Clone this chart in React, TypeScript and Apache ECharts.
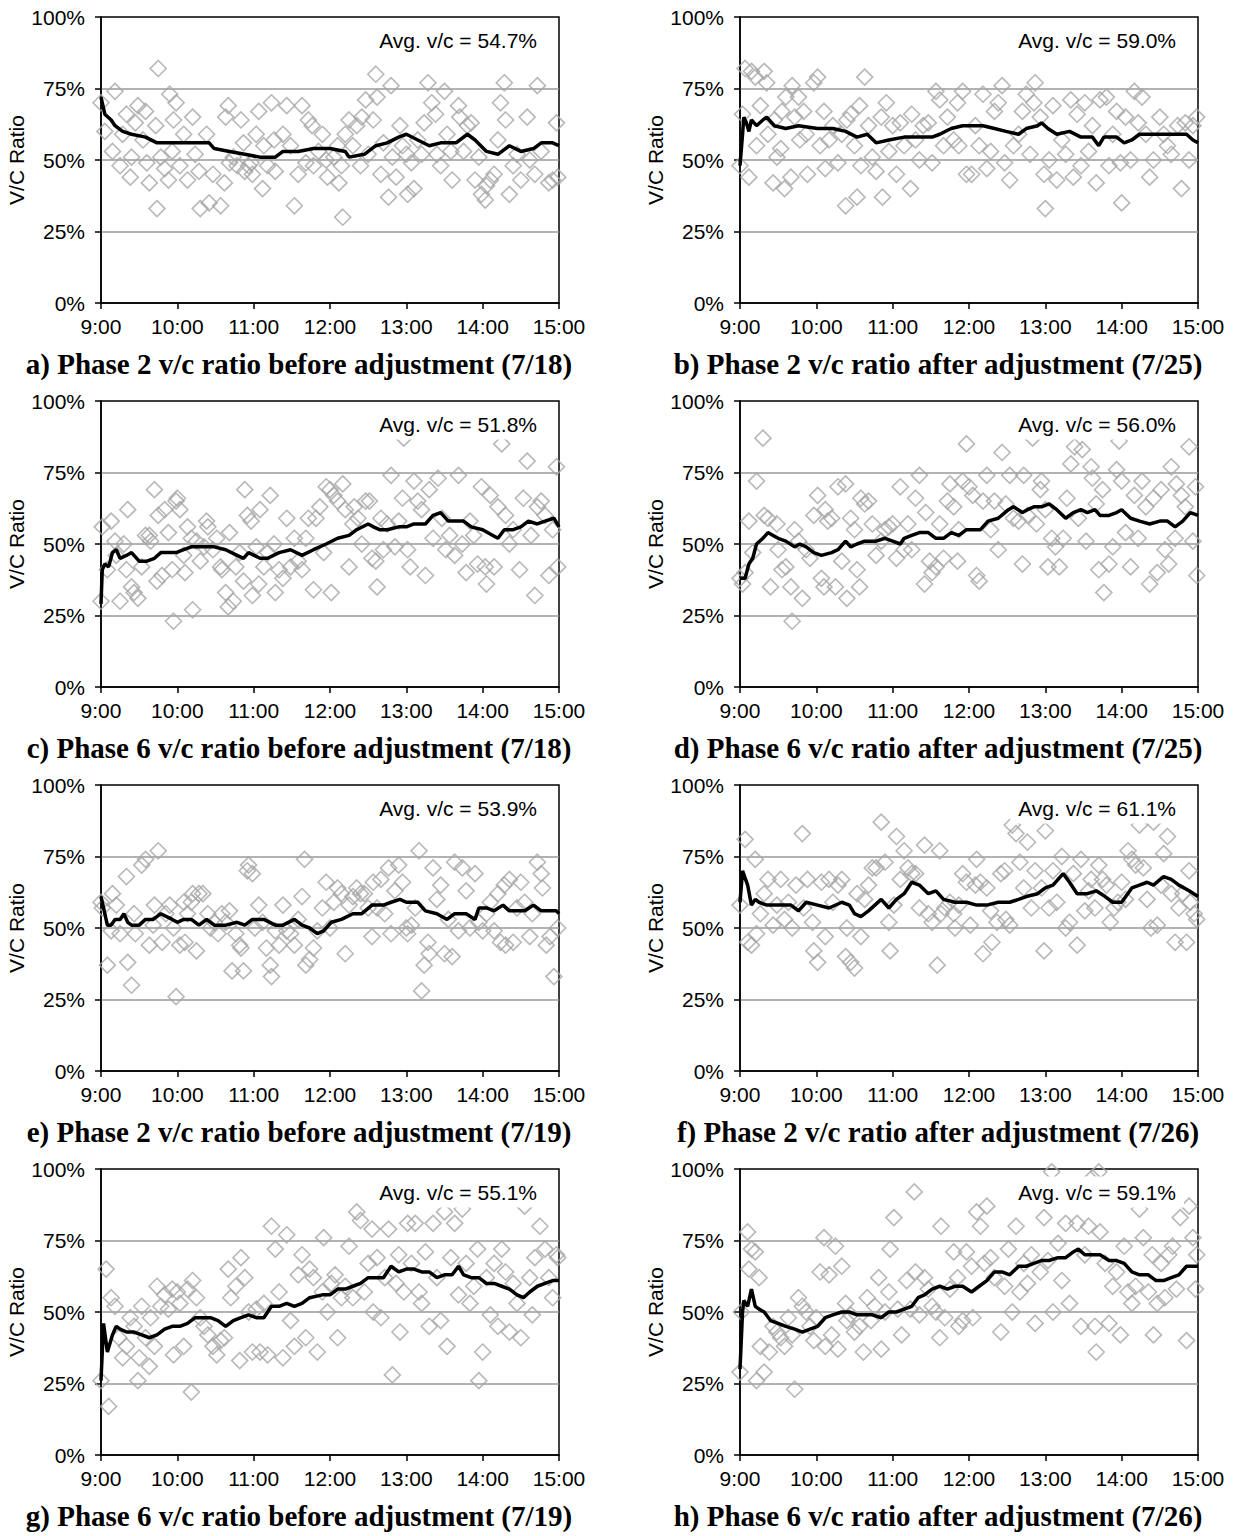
import React, { useEffect, useRef } from "react";
import * as echarts from "echarts";

const TIME_LABELS = ["9:00", "10:00", "11:00", "12:00", "13:00", "14:00", "15:00"];
const Y_TICKS = [0, 25, 50, 75, 100];

const CAPTIONS = [
  "a) Phase 2 v/c ratio before adjustment (7/18)",
  "b) Phase 2 v/c ratio after adjustment (7/25)",
  "c) Phase 6 v/c ratio before adjustment (7/18)",
  "d) Phase 6 v/c ratio after adjustment (7/25)",
  "e) Phase 2 v/c ratio before adjustment (7/19)",
  "f) Phase 2 v/c ratio after adjustment (7/26)",
  "g) Phase 6 v/c ratio before adjustment (7/19)",
  "h) Phase 6 v/c ratio after adjustment (7/26)",
];
const AVG_VC = ["54.7%", "59.0%", "51.8%", "56.0%", "53.9%", "61.1%", "55.1%", "59.1%"];

// x = minutes after 9:00, y = v/c ratio in %
const scatterA = [[0,70],[3,60],[11,74],[9,53],[17,59],[15,48],[20,66],[24,51],[23,44],[27,63],[29,69],[35,67],[33,57],[36,49],[38,42],[44,33],[45,82],[43,62],[47,51],[50,47],[53,43],[54,73],[59,70],[57,64],[56,53],[62,48],[65,59],[68,43],[72,65],[74,52],[77,46],[78,33],[83,59],[85,35],[88,45],[94,34],[97,42],[100,69],[98,65],[101,49],[104,51],[107,48],[110,64],[112,56],[113,46],[116,48],[118,49],[119,45],[122,59],[124,67],[127,40],[128,55],[131,48],[134,70],[136,57],[137,46],[143,59],[146,69],[149,55],[152,34],[155,45],[158,69],[161,49],[163,64],[166,62],[167,48],[171,53],[174,59],[177,50],[178,44],[183,51],[186,55],[187,42],[189,48],[190,30],[192,59],[195,64],[198,55],[201,62],[204,48],[205,65],[208,71],[210,52],[214,64],[216,80],[217,72],[220,45],[222,56],[226,37],[228,76],[229,51],[232,44],[235,62],[237,55],[240,52],[241,38],[244,49],[246,40],[249,57],[252,52],[254,63],[257,77],[260,70],[263,66],[264,52],[267,48],[270,74],[272,59],[275,53],[276,43],[281,69],[282,65],[285,53],[288,62],[291,63],[294,43],[297,51],[299,38],[302,36],[303,41],[306,43],[309,45],[312,57],[314,70],[317,77],[318,64],[321,38],[324,48],[327,52],[330,43],[335,65],[337,50],[341,45],[343,76],[346,53],[352,42],[355,43],[358,63],[359,44]];
const lineA = [[0,72],[3,66],[8,64],[11,62],[17,60],[24,59],[35,58],[44,56],[56,56],[65,56],[77,56],[85,56],[89,54],[101,53],[113,52],[125,51],[137,51],[143,53],[155,53],[167,54],[180,54],[192,53],[195,51],[207,52],[216,55],[225,56],[234,58],[240,59],[249,57],[258,55],[267,56],[279,56],[288,59],[294,57],[303,53],[312,52],[321,55],[330,53],[340,54],[346,56],[355,56],[360,55]];

const scatterB = [[0,48],[2,66],[4,82],[9,81],[7,44],[12,79],[13,55],[16,69],[19,81],[21,77],[22,59],[26,42],[27,64],[29,51],[32,54],[33,67],[35,40],[36,72],[40,44],[41,76],[43,65],[46,72],[47,57],[50,67],[52,59],[53,45],[58,77],[61,79],[63,55],[66,67],[67,47],[70,57],[73,62],[77,49],[80,59],[83,34],[84,64],[87,66],[90,55],[92,37],[94,69],[95,48],[98,79],[101,62],[104,51],[107,46],[111,65],[112,37],[115,70],[117,53],[120,62],[123,45],[126,63],[129,55],[134,40],[135,66],[138,57],[141,50],[144,62],[148,63],[151,49],[154,74],[157,71],[160,55],[163,65],[168,57],[171,70],[172,55],[175,74],[178,45],[182,45],[185,62],[188,55],[191,73],[194,47],[197,53],[200,67],[203,70],[206,76],[208,49],[212,43],[215,55],[219,59],[222,67],[225,73],[228,52],[231,70],[232,77],[236,65],[239,45],[240,33],[243,50],[246,69],[249,43],[253,57],[256,52],[260,71],[262,44],[265,66],[268,48],[271,70],[274,53],[277,62],[280,42],[283,71],[288,72],[290,48],[293,59],[296,67],[299,49],[300,35],[303,65],[307,50],[310,74],[313,63],[316,72],[319,59],[322,44],[325,50],[330,65],[333,59],[336,55],[339,52],[344,62],[347,40],[350,63],[353,50],[356,62],[359,65]];
const lineB = [[0,48],[2,59],[3,65],[5,63],[7,60],[9,64],[13,62],[18,64],[21,65],[27,62],[36,61],[46,62],[61,61],[73,61],[83,60],[92,58],[100,59],[107,56],[117,57],[129,58],[141,58],[151,58],[157,59],[166,61],[175,62],[185,62],[191,62],[200,61],[209,60],[219,59],[225,61],[234,62],[237,63],[242,61],[249,59],[259,60],[268,58],[277,58],[282,55],[286,58],[296,58],[302,56],[308,57],[314,59],[324,59],[333,59],[342,59],[351,59],[356,57],[360,56]];

const scatterC = [[0,30],[1,56],[5,41],[8,58],[11,51],[12,46],[15,30],[18,50],[20,41],[21,62],[24,35],[26,33],[29,31],[32,42],[35,53],[38,53],[39,51],[42,69],[44,37],[45,60],[48,39],[50,62],[53,54],[56,41],[57,23],[59,65],[60,66],[62,62],[65,46],[66,40],[68,56],[71,52],[72,27],[75,51],[78,44],[81,49],[83,58],[84,56],[88,48],[91,52],[94,42],[95,41],[98,33],[100,28],[101,54],[104,30],[106,42],[109,47],[112,37],[113,69],[115,60],[118,58],[119,32],[122,49],[124,36],[125,62],[128,42],[131,47],[133,67],[136,50],[137,33],[140,41],[143,38],[146,59],[149,42],[152,52],[155,44],[158,41],[161,52],[163,59],[167,34],[169,59],[172,63],[175,47],[177,70],[180,69],[181,33],[183,67],[186,65],[190,71],[192,62],[195,42],[198,57],[199,63],[202,59],[205,50],[208,65],[211,65],[213,45],[216,44],[217,35],[220,59],[222,48],[225,57],[228,74],[231,49],[234,58],[237,66],[238,87],[241,48],[243,42],[246,72],[249,65],[252,62],[255,39],[258,69],[261,52],[265,73],[268,59],[271,48],[274,53],[278,46],[281,74],[284,50],[287,40],[290,58],[293,53],[296,43],[299,70],[302,42],[303,36],[306,67],[309,42],[312,63],[315,85],[318,60],[321,50],[324,55],[329,41],[332,66],[335,79],[338,53],[341,32],[343,63],[346,65],[349,60],[352,39],[355,55],[358,77],[359,42]];
const lineC = [[0,29],[1,41],[3,43],[6,42],[9,47],[12,48],[15,45],[20,46],[24,47],[30,44],[36,44],[42,45],[47,47],[53,47],[59,47],[65,48],[71,49],[80,49],[89,49],[98,48],[107,46],[112,45],[116,47],[125,45],[131,45],[140,47],[149,48],[158,46],[167,48],[177,50],[186,52],[195,53],[201,55],[210,57],[214,56],[219,55],[225,55],[234,56],[240,56],[246,57],[255,57],[261,60],[267,61],[273,58],[279,58],[285,58],[291,56],[300,55],[308,53],[312,52],[317,55],[324,55],[330,56],[336,58],[343,57],[349,58],[356,59],[360,56]];

const scatterD = [[0,38],[2,36],[4,40],[7,58],[10,47],[13,72],[18,87],[19,60],[22,59],[24,35],[29,57],[30,48],[33,41],[36,42],[40,35],[41,23],[43,55],[46,51],[49,31],[52,48],[55,45],[58,60],[61,67],[64,38],[66,35],[67,62],[69,58],[72,59],[75,35],[77,70],[80,44],[83,71],[84,31],[87,59],[90,55],[92,41],[94,35],[95,66],[98,64],[101,65],[104,57],[107,46],[111,51],[114,55],[117,56],[120,57],[123,45],[126,70],[129,48],[132,57],[135,48],[138,66],[141,74],[145,36],[146,61],[149,44],[151,40],[154,42],[157,57],[160,45],[163,65],[165,71],[168,63],[171,44],[172,55],[175,72],[178,85],[180,70],[183,67],[186,39],[188,37],[191,65],[194,74],[197,55],[200,65],[203,48],[206,82],[209,64],[212,74],[215,59],[219,58],[222,43],[223,74],[226,60],[230,87],[233,57],[236,69],[237,72],[240,62],[242,42],[245,52],[248,49],[251,42],[254,52],[257,66],[260,78],[263,84],[266,59],[269,83],[272,51],[276,77],[277,73],[280,64],[282,41],[285,69],[286,33],[290,43],[293,49],[296,76],[298,86],[300,72],[303,54],[307,42],[310,67],[313,52],[316,72],[319,63],[322,36],[325,66],[328,40],[331,69],[334,48],[337,43],[339,77],[342,52],[343,71],[347,67],[350,63],[353,84],[356,51],[358,70],[359,39]];
const lineD = [[0,38],[4,38],[7,43],[10,45],[13,50],[18,52],[22,54],[26,53],[30,52],[36,51],[43,49],[47,50],[52,49],[58,47],[64,46],[72,47],[77,48],[83,51],[87,49],[92,50],[98,51],[107,51],[114,52],[120,51],[126,50],[129,52],[135,53],[141,54],[148,54],[154,52],[160,52],[166,54],[172,53],[178,55],[185,55],[189,55],[195,58],[203,59],[211,62],[215,63],[222,61],[226,62],[231,63],[237,63],[243,64],[249,62],[256,59],[262,61],[268,62],[273,61],[279,62],[283,60],[290,60],[296,61],[300,62],[307,59],[314,58],[322,57],[330,58],[336,58],[342,56],[348,58],[354,61],[360,60]];

const scatterE = [[0,59],[1,57],[5,37],[8,49],[9,62],[12,58],[15,48],[20,68],[21,38],[24,30],[26,55],[27,48],[32,72],[35,74],[38,44],[41,51],[42,58],[45,77],[48,45],[51,55],[54,58],[57,50],[59,26],[62,44],[65,59],[66,45],[68,55],[71,59],[72,62],[75,42],[77,62],[80,62],[84,55],[86,50],[89,52],[92,48],[95,55],[98,52],[101,56],[103,35],[106,48],[109,44],[110,43],[112,35],[115,70],[116,72],[119,69],[121,50],[124,58],[127,52],[130,43],[133,37],[134,33],[137,49],[140,44],[143,58],[146,49],[149,48],[152,44],[155,53],[158,61],[160,74],[161,37],[164,39],[167,43],[170,49],[174,57],[177,66],[180,50],[183,59],[186,64],[189,62],[192,41],[195,58],[198,61],[201,64],[204,62],[207,62],[210,57],[213,47],[214,66],[217,57],[220,67],[223,55],[226,71],[228,48],[231,63],[234,72],[237,66],[240,50],[241,48],[244,51],[247,57],[250,77],[252,28],[254,37],[257,45],[258,41],[261,71],[264,60],[267,65],[270,41],[273,53],[276,40],[278,73],[281,49],[284,71],[287,63],[290,50],[294,69],[297,52],[300,49],[303,55],[306,59],[309,49],[312,62],[314,45],[317,65],[318,44],[321,67],[324,45],[327,57],[330,66],[333,59],[337,47],[339,55],[343,73],[346,69],[347,64],[350,44],[353,47],[356,33],[359,50]];
const lineE = [[0,61],[2,57],[5,51],[8,51],[11,53],[15,53],[18,55],[21,52],[24,51],[30,51],[35,53],[41,53],[47,55],[56,53],[60,52],[65,53],[71,53],[77,51],[83,53],[89,51],[98,51],[107,52],[113,51],[119,53],[128,53],[137,51],[143,51],[152,53],[158,51],[164,50],[170,48],[175,49],[181,52],[189,53],[198,55],[205,55],[213,58],[222,58],[228,59],[235,60],[240,59],[249,59],[255,56],[264,55],[272,53],[278,55],[287,55],[294,53],[297,57],[303,57],[309,56],[316,58],[321,56],[327,56],[333,56],[340,58],[346,56],[352,56],[358,56],[360,55]];

const scatterF = [[0,58],[4,81],[6,45],[9,44],[12,74],[13,48],[16,55],[19,62],[22,67],[26,51],[29,58],[32,67],[35,53],[38,59],[41,50],[44,65],[49,83],[50,57],[53,67],[57,52],[58,42],[61,38],[64,66],[67,47],[70,67],[73,59],[77,65],[80,67],[83,40],[84,50],[87,38],[90,36],[92,62],[95,47],[98,60],[101,65],[104,71],[107,71],[111,87],[114,73],[117,52],[118,42],[121,58],[123,82],[126,67],[129,77],[132,71],[135,69],[138,69],[141,57],[145,79],[148,55],[151,52],[155,37],[157,77],[158,55],[161,57],[165,59],[168,55],[169,50],[172,58],[175,69],[178,66],[181,51],[185,65],[186,74],[189,66],[191,41],[194,64],[197,56],[198,45],[202,52],[205,69],[208,70],[209,53],[212,51],[214,86],[217,83],[220,73],[223,64],[226,80],[229,57],[232,70],[237,64],[239,42],[240,84],[243,57],[246,70],[249,59],[253,75],[256,50],[259,52],[262,69],[265,44],[268,74],[271,56],[274,63],[276,67],[279,57],[282,72],[285,67],[288,65],[291,52],[294,57],[297,59],[300,66],[303,60],[305,77],[308,74],[311,72],[314,86],[317,71],[320,60],[323,50],[325,87],[328,51],[331,65],[333,76],[336,82],[339,62],[342,45],[345,57],[348,62],[351,45],[353,70],[354,59],[357,55],[359,53]];
const lineF = [[0,59],[2,70],[6,65],[9,58],[12,60],[15,59],[21,58],[30,58],[40,58],[46,56],[52,59],[61,58],[70,57],[80,59],[86,58],[90,55],[95,54],[101,56],[111,60],[117,57],[123,60],[129,62],[135,66],[141,65],[148,62],[154,63],[160,60],[169,59],[178,59],[186,58],[194,58],[203,59],[212,59],[219,60],[225,61],[234,62],[240,64],[246,65],[254,69],[259,66],[265,62],[273,62],[280,63],[287,61],[293,59],[300,59],[308,64],[314,65],[320,66],[325,65],[333,68],[339,67],[345,65],[353,63],[360,61]];

const scatterG = [[0,26],[4,65],[6,17],[8,55],[11,52],[14,41],[17,34],[20,38],[23,48],[26,45],[29,26],[30,34],[32,52],[35,41],[38,31],[39,48],[42,38],[44,59],[47,52],[50,56],[53,51],[56,58],[57,35],[60,57],[62,53],[65,38],[68,58],[71,22],[72,61],[75,55],[78,48],[81,45],[84,42],[88,38],[91,35],[94,40],[97,41],[100,65],[102,55],[106,59],[109,33],[110,69],[113,62],[116,50],[119,36],[122,51],[125,36],[128,53],[131,35],[134,80],[137,72],[140,57],[143,34],[146,77],[149,47],[152,38],[155,63],[158,70],[161,41],[164,65],[167,62],[170,36],[174,57],[175,76],[178,50],[181,60],[184,63],[186,41],[189,55],[192,59],[195,73],[198,55],[201,85],[204,82],[207,57],[210,67],[213,79],[214,50],[217,69],[220,48],[223,62],[226,79],[229,28],[232,60],[234,70],[235,43],[238,57],[241,81],[244,67],[247,81],[250,57],[252,53],[255,71],[258,45],[261,81],[264,62],[267,47],[270,85],[272,38],[275,69],[278,81],[281,56],[284,86],[287,67],[290,53],[293,59],[296,72],[297,26],[300,36],[303,62],[306,49],[309,67],[312,45],[315,72],[318,64],[321,43],[324,60],[327,53],[330,41],[333,87],[337,62],[339,49],[341,69],[345,80],[349,72],[352,62],[355,55],[358,70],[359,69]];
const lineG = [[0,26],[2,46],[5,36],[9,42],[12,45],[15,44],[20,43],[26,43],[32,42],[38,41],[44,42],[50,44],[56,45],[62,45],[68,46],[74,48],[80,48],[86,48],[92,47],[98,45],[104,47],[110,48],[116,49],[122,48],[128,48],[134,52],[140,52],[146,53],[152,52],[158,53],[164,55],[174,56],[180,56],[186,58],[192,58],[198,59],[204,60],[210,62],[216,62],[222,62],[228,66],[234,64],[240,65],[246,65],[252,64],[258,64],[264,62],[270,63],[276,63],[281,66],[285,63],[291,62],[297,62],[303,60],[309,60],[315,59],[321,58],[327,56],[332,55],[337,57],[343,59],[349,60],[355,61],[360,61]];

const scatterH = [[0,29],[1,50],[6,78],[9,72],[12,71],[7,65],[13,26],[15,62],[16,38],[19,29],[23,36],[26,45],[29,43],[32,41],[35,38],[38,48],[41,42],[43,23],[46,55],[49,52],[52,50],[55,45],[58,40],[60,48],[63,64],[66,76],[67,38],[70,63],[72,42],[75,73],[77,37],[80,66],[83,53],[84,47],[87,49],[90,43],[94,45],[97,36],[100,55],[103,47],[106,52],[109,62],[111,37],[114,50],[117,57],[118,72],[121,83],[124,51],[127,42],[131,61],[134,51],[137,92],[138,64],[141,49],[145,62],[148,58],[151,52],[154,50],[157,41],[158,80],[161,48],[165,58],[168,71],[171,62],[172,45],[175,47],[178,71],[182,66],[183,48],[186,85],[189,80],[192,67],[194,87],[197,69],[200,62],[205,43],[208,59],[211,72],[214,50],[217,80],[220,57],[223,67],[226,60],[229,70],[232,46],[236,64],[239,83],[242,68],[245,99],[246,50],[250,74],[253,61],[256,81],[259,53],[262,93],[265,81],[268,45],[271,70],[274,80],[277,97],[279,45],[280,36],[282,99],[283,78],[287,67],[290,46],[293,59],[296,64],[299,42],[302,73],[305,57],[308,53],[311,59],[314,86],[317,76],[321,57],[324,70],[325,42],[328,53],[331,67],[334,55],[337,70],[340,73],[343,58],[346,83],[351,40],[353,87],[356,76],[358,58],[359,70]];
const lineH = [[0,30],[2,50],[3,54],[6,52],[9,58],[12,52],[15,51],[19,50],[24,47],[30,46],[36,45],[43,44],[49,43],[55,44],[61,45],[67,48],[73,49],[80,50],[86,50],[92,49],[98,49],[104,49],[111,48],[117,50],[123,50],[129,51],[135,52],[140,55],[145,56],[151,58],[157,59],[163,58],[169,59],[175,59],[182,57],[188,59],[194,61],[200,64],[206,64],[212,63],[219,66],[225,66],[231,67],[237,68],[243,68],[250,69],[256,69],[262,71],[266,72],[271,70],[277,70],[283,70],[290,68],[296,68],[302,67],[308,64],[314,63],[321,63],[327,61],[333,61],[339,62],[345,63],[351,66],[360,66]];

const SCATTERS = [scatterA, scatterB, scatterC, scatterD, scatterE, scatterF, scatterG, scatterH];
const LINES = [lineA, lineB, lineC, lineD, lineE, lineF, lineG, lineH];

const SANS = "'Liberation Sans', Arial, sans-serif";
const SERIF = "'Liberation Serif', 'Times New Roman', serif";

export default function App() {
  const ref = useRef<HTMLDivElement>(null);
  useEffect(() => {
    if (!ref.current) return;
    const chart = echarts.init(ref.current, undefined, { renderer: "svg" });
    const lefts = [101, 740];
    const tops = [17, 401, 785, 1169];
    const W = 458;
    const H = 286;
    const grids: any[] = [];
    const xAxes: any[] = [];
    const yAxes: any[] = [];
    const series: any[] = [];
    const graphics: any[] = [];
    for (let i = 0; i < 8; i++) {
      const left = lefts[i % 2];
      const top = tops[Math.floor(i / 2)];
      grids.push({ left, top, width: W, height: H, show: true, borderColor: "#000", borderWidth: 1.5, backgroundColor: "transparent" });
      xAxes.push({
        type: "value", gridIndex: i, min: 0, max: 360, interval: 60,
        axisLine: { show: true, onZero: false, lineStyle: { color: "#000", width: 1.5 } },
        axisTick: { show: true, length: 6, inside: false, lineStyle: { color: "#000", width: 1.5 } },
        axisLabel: { color: "#000", fontFamily: SANS, fontSize: 21, margin: 13, formatter: (v: number) => TIME_LABELS[Math.round(v / 60)] },
        splitLine: { show: false },
      });
      yAxes.push({
        type: "value", gridIndex: i, min: Y_TICKS[0], max: Y_TICKS[Y_TICKS.length - 1], interval: 25,
        name: "V/C Ratio", nameLocation: "middle", nameGap: 63, nameRotate: 90,
        nameTextStyle: { color: "#000", fontFamily: SANS, fontSize: 21 },
        axisLine: { show: true, lineStyle: { color: "#000", width: 1.5 } },
        axisTick: { show: true, length: 6, inside: false, lineStyle: { color: "#000", width: 1.5 } },
        axisLabel: { color: "#000", fontFamily: SANS, fontSize: 21, margin: 16, formatter: "{value}%" },
        splitLine: { show: true, showMinLine: false, showMaxLine: false, lineStyle: { color: "#999", width: 1.5 } },
      });
      series.push({
        type: "scatter", xAxisIndex: i, yAxisIndex: i, data: SCATTERS[i], symbol: "diamond", symbolSize: 16,
        itemStyle: { color: "rgba(255,255,255,0)", borderColor: "#a6a6a6", borderWidth: 1.6 },
        clip: true, silent: true, z: 2,
      });
      series.push({
        type: "line", xAxisIndex: i, yAxisIndex: i, data: LINES[i], showSymbol: false, symbol: "none",
        lineStyle: { color: "#000", width: 3.5 }, silent: true, z: 3,
      });
      graphics.push({
        type: "text", x: left + W - 14, y: top + 23, z: 100,
        style: {
          text: "Avg. v/c = " + AVG_VC[i], fill: "#000", font: `21px ${SANS}`,
          textAlign: "right", textVerticalAlign: "middle", backgroundColor: "#fff", padding: [5, 8],
        },
      });
      graphics.push({
        type: "text", x: left + 198, y: top + 347, z: 100,
        style: {
          text: CAPTIONS[i], fill: "#000", font: `bold 29px ${SERIF}`,
          textAlign: "center", textVerticalAlign: "middle",
        },
      });
    }
    chart.setOption({
      animation: false,
      backgroundColor: "#fff",
      grid: grids,
      xAxis: xAxes,
      yAxis: yAxes,
      series,
      graphic: graphics,
    });
    return () => chart.dispose();
  }, []);
  return <div ref={ref} style={{ position: "absolute", left: 0, top: 0, width: 1233, height: 1536 }} />;
}
